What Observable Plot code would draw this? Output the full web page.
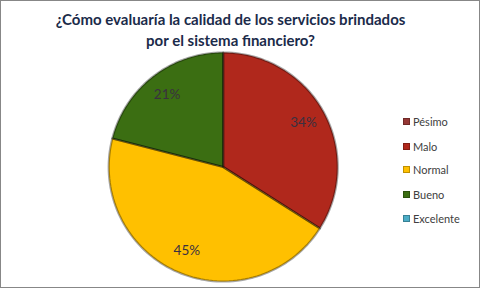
<!DOCTYPE html>
<html>
<head>
<meta charset="utf-8">
<script src="https://cdn.jsdelivr.net/npm/d3@7"></script>
<script src="https://cdn.jsdelivr.net/npm/@observablehq/plot@0.6"></script>
<style>
  html, body { margin: 0; padding: 0; background: #fff; }
  #frame { position: relative; width: 481px; height: 289px; overflow: hidden; font-family: Lato, "Open Sans", sans-serif; }
  #border { position: absolute; left: 0; top: 0; width: 480px; height: 288px; box-sizing: border-box; border: 1px solid #878787; pointer-events: none; }
  #title { position: absolute; left: 0; top: 0; width: 461px; height: 48px; text-align: center; font-weight: 700; font-size: 15px; line-height: 21px; color: #1B2B4A; padding-top: 9px; box-sizing: border-box; }
  #chart { position: absolute; left: 0; top: 48px; }
  #legend { position: absolute; left: 403px; top: 114px; }
  .item { position: absolute; left: 0; height: 14px; display: flex; align-items: center; font-size: 11px; color: #404040; white-space: nowrap; }
  .sw { width: 7px; height: 7px; margin-right: 3px; box-shadow: inset 0 0 0 1px rgba(0,0,0,0.25); }
</style>
</head>
<body>
<div id="frame">
  <div id="title">¿Cómo evaluaría la calidad de los servicios brindados<br>por el sistema financiero?</div>
  <div id="chart"></div>
  <div id="legend"></div>
  <div id="border"></div>
</div>
<script>
const categories = ["Pésimo", "Malo", "Normal", "Bueno", "Excelente"];
const values = [0, 34, 45, 21, 0];
const labels = ["0%", "34%", "45%", "21%", "0%"];
const colors = ["#953735", "#B0281C", "#FFC000", "#3B6E12", "#4BACC6"];

const rows = categories.map((c, i) => ({cat: c, value: values[i], label: labels[i]}));
const arcs = d3.pie().sort(null).value(d => d.value)(rows);

// polygon outline of every slice, built from the pie angles
const pts = [];
arcs.forEach(a => {
  if (a.data.value <= 0) return;
  pts.push({cat: a.data.cat, x: 0, y: 0});
  const n = 80;
  for (let k = 0; k <= n; k++) {
    const t = a.startAngle + (a.endAngle - a.startAngle) * k / n;
    pts.push({cat: a.data.cat, x: Math.sin(t), y: Math.cos(t)});
  }
  pts.push({cat: a.data.cat, x: 0, y: 0});
});
const labelPts = arcs.filter(a => a.data.value > 0).map(a => {
  const m = (a.startAngle + a.endAngle) / 2;
  return {label: a.data.label, x: 0.8 * Math.sin(m), y: 0.8 * Math.cos(m)};
});

const cx = 222.7, cy = 118.5, R = 114.5;
const chart = Plot.plot({
  width: 481,
  height: 241,
  margin: 0,
  x: {domain: [-1, 1], range: [cx - R, cx + R], axis: null},
  y: {domain: [-1, 1], range: [cy + R, cy - R], axis: null},
  color: {domain: categories, range: colors},
  style: {background: "transparent", overflow: "visible"},
  marks: [
    Plot.line(pts, {x: "x", y: "y", z: "cat", fill: "cat", stroke: "none"}),
    Plot.line(pts, {x: "x", y: "y", z: "cat", stroke: "#000", strokeOpacity: 0.35, strokeWidth: 2.2, strokeLinejoin: "round"}),
    Plot.text(labelPts, {x: "x", y: "y", text: "label", fontSize: 13.5, fill: "#3a3040", fontFamily: "Lato, sans-serif"})
  ]
});
document.getElementById("chart").append(chart);

const legend = document.getElementById("legend");
const ys = [0, 25, 48, 73, 97];
categories.forEach((c, i) => {
  const it = document.createElement("div");
  it.className = "item";
  it.style.top = ys[i] + "px";
  const sw = document.createElement("span");
  sw.className = "sw";
  sw.style.background = colors[i];
  const tx = document.createElement("span");
  tx.textContent = c;
  it.append(sw, tx);
  legend.append(it);
});
</script>
</body>
</html>
